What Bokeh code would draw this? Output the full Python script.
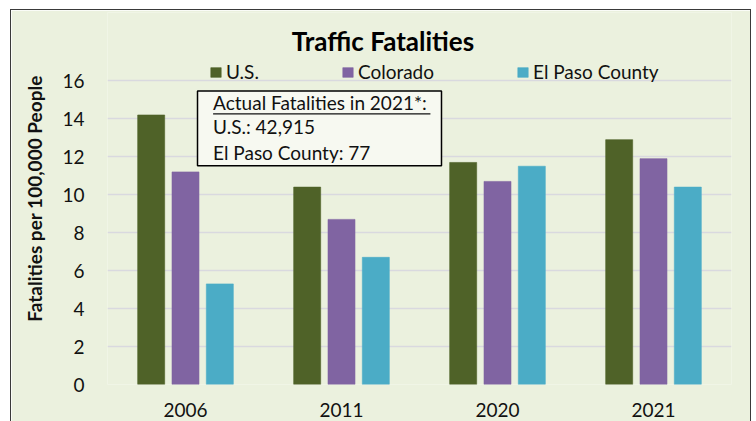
from bokeh.plotting import figure
from bokeh.models import (ColumnDataSource, FactorRange, Range1d, FixedTicker, Legend, LegendItem,
                          Label)
from bokeh.transform import dodge
from bokeh.embed import file_html
from bokeh.resources import INLINE

# ---- data ----
years = ["2006", "2011", "2020", "2021"]
us = [14.2, 10.4, 11.7, 12.9]
colorado = [11.2, 8.7, 10.7, 11.9]
el_paso = [5.3, 6.7, 11.5, 10.4]
series_names = ["U.S.", "Colorado", "El Paso County"]
y_ticks = [0, 2, 4, 6, 8, 10, 12, 14, 16]
title_text = "Traffic Fatalities"
y_label = "Fatalities per 100,000 People"
note_lines = ["Actual Fatalities in 2021*:", "U.S.: 42,915", "El Paso County: 77"]

# ---- style ----
FONT = "Lato"
BG = "#EBF1DE"
colors = ["#4F6228", "#8064A2", "#4BACC6"]

source = ColumnDataSource(dict(year=years, us=us, colorado=colorado, el_paso=el_paso))

p = figure(x_range=FactorRange(*years, range_padding=0), y_range=Range1d(0, 19.6),
           width=741, height=412, output_backend="svg", toolbar_location=None,
           min_border_left=96, min_border_right=21, min_border_top=2, min_border_bottom=38)
p.margin = (9, 0, 0, 10)
p.styles = {"border-top": "1px solid #3A3A3A", "border-left": "1px solid #3A3A3A",
            "border-right": "1px solid #3A3A3A", "border-bottom": "none"}
p.background_fill_color = BG
p.border_fill_color = BG
p.outline_line_color = None

bw = 0.173
offs = [-0.22, 0.0, 0.22]
fields = ["us", "colorado", "el_paso"]
renderers = []
for f, o, c in zip(fields, offs, colors):
    r = p.vbar(x=dodge("year", o, range=p.x_range), top=f, width=bw, bottom=0, source=source,
               fill_color=c, line_color=c, line_alpha=0.6, line_width=1)
    renderers.append(r)

# axes
p.yaxis.ticker = FixedTicker(ticks=y_ticks)
p.yaxis.axis_line_color = None
p.yaxis.major_tick_line_color = None
p.yaxis.minor_tick_line_color = None
p.yaxis.major_label_standoff = 17
p.yaxis.major_label_text_font = FONT
p.yaxis.major_label_text_font_size = "19px"
p.yaxis.major_label_text_color = "#111111"
p.yaxis.axis_label = y_label
p.yaxis.axis_label_text_font = FONT
p.yaxis.axis_label_text_font_style = "bold"
p.yaxis.axis_label_text_font_size = "19px"
p.yaxis.axis_label_standoff = 13
p.yaxis.axis_label_text_color = "#111111"

p.xaxis.axis_line_color = None
p.xaxis.major_tick_line_color = None
p.xaxis.minor_tick_line_color = None
p.xaxis.major_label_standoff = 12
p.xaxis.major_label_text_font = FONT
p.xaxis.major_label_text_font_size = "19px"
p.xaxis.major_label_text_color = "#111111"

p.xgrid.grid_line_color = None
p.ygrid.grid_line_color = "#D9D9DF"
p.ygrid.grid_line_width = 1.5

# title
p.add_layout(Label(x=1.766, y=18.1, text=title_text, text_align="center", text_baseline="middle",
                   text_font=FONT, text_font_style="bold", text_font_size="26px", text_color="#000000"))

# legend
legend = Legend(items=[LegendItem(label=n, renderers=[r]) for n, r in zip(series_names, renderers)],
                orientation="horizontal", location=(102, 301), padding=0, margin=0, spacing=82,
                glyph_width=13, glyph_height=12, label_standoff=4,
                label_text_font=FONT, label_text_font_size="19px", label_text_color="#111111",
                background_fill_alpha=0, border_line_color=None)
p.add_layout(legend)

# note box (drawn as glyphs so the underline sits on top of the box)
p.quad(left=[0.577], right=[2.141], bottom=[11.53], top=[15.47],
       fill_color="#F7F9F1", line_color="#000000", line_width=1.5)
p.segment(x0=[0.677], x1=[2.07], y0=[14.26], y1=[14.26], line_color="#111111", line_width=1.2)
note_y = [14.85, 13.58, 12.25]
for t, yy in zip(note_lines, note_y):
    p.add_layout(Label(x=0.677, y=yy, text=t, text_align="left", text_baseline="middle",
                       text_font=FONT, text_font_size="19px", text_color="#111111"))

open("out.html", "w").write(file_html(p, INLINE))
